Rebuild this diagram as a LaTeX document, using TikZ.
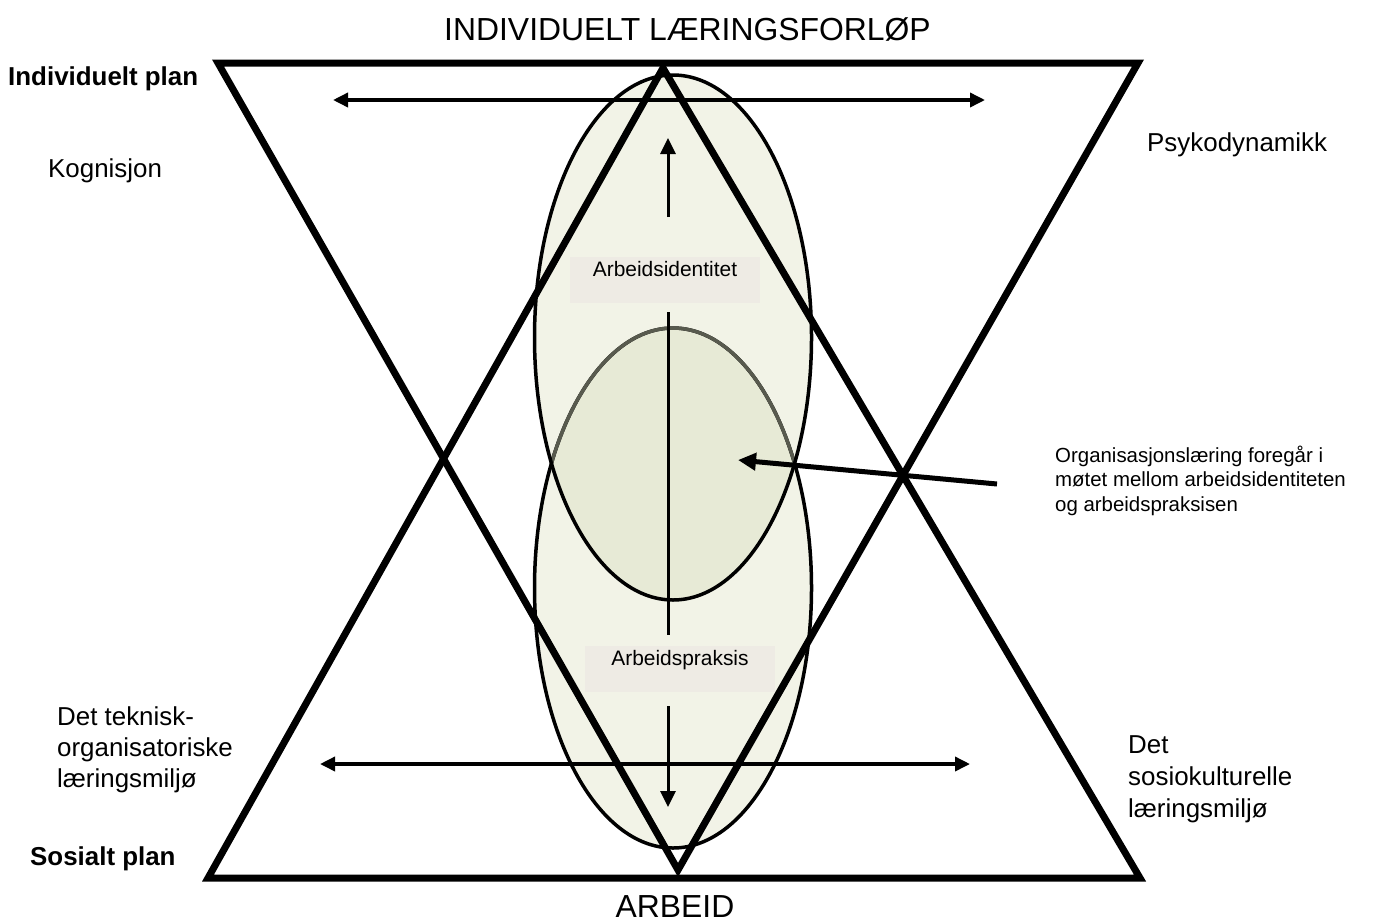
\documentclass[tikz,border=0pt]{standalone}
\usepackage{fontspec}
\setmainfont{Liberation Sans}
\usepackage{xcolor}
\definecolor{lysgronn}{RGB}{242,243,231}
\definecolor{overlapp}{RGB}{231,234,214}
\definecolor{buegra}{RGB}{88,90,78}
\definecolor{etikettgra}{RGB}{238,235,228}
\usetikzlibrary{arrows.meta,positioning}

\begin{document}
\begin{tikzpicture}[x=1bp,y=-1bp,
  trekant/.style={line width=7bp},
  ellipselinje/.style={line width=3.5bp},
  pil/.style={-{Triangle[length=16bp,width=15bp]},line width=3.5bp},
  dobbelpil/.style={{Triangle[length=15bp,width=14bp]}-{Triangle[length=15bp,width=14bp]},line width=3.5bp},
  skraapil/.style={-{Triangle[length=18bp,width=17bp]},line width=5bp},
  etikett/.style={fill=etikettgra,minimum width=190bp,text height=15bp,
                  text depth=23bp,inner ysep=4bp,font=\fontsize{21}{25}\selectfont},
  tekst/.style={inner sep=0pt,align=left,anchor=base west,font=\fontsize{26}{31}\selectfont},
  fettekst/.style={tekst,font=\fontsize{26}{31}\selectfont\bfseries},
  overskrift/.style={inner sep=0pt,anchor=base,font=\fontsize{32}{38}\selectfont}
]
\useasboundingbox (0,0) rectangle (1377,922);

% Ellipsene
\coordinate (ovre) at (673,337.5);
\coordinate (nedre) at (673,588);
\fill[lysgronn] (nedre) ellipse [x radius=138.5,y radius=260];
\fill[lysgronn] (ovre) ellipse [x radius=138.5,y radius=262.5];
\begin{scope}
  \clip (ovre) ellipse [x radius=138.5,y radius=262.5];
  \fill[overlapp] (nedre) ellipse [x radius=138.5,y radius=260];
\end{scope}
\draw[ellipselinje] (nedre) ellipse [x radius=138.5,y radius=260];
\begin{scope}
  \clip (ovre) ellipse [x radius=138.5,y radius=262.5];
  \draw[ellipselinje,draw=buegra] (nedre) ellipse [x radius=138.5,y radius=260];
\end{scope}
\draw[ellipselinje] (ovre) ellipse [x radius=138.5,y radius=262.5];

% Horisontale piler
\coordinate (hv1) at (333,100);
\coordinate (hh1) at (985,100);
\coordinate (hv2) at (320,764);
\coordinate (hh2) at (970,764);
\draw[dobbelpil] (hv1) -- (hh1);
\draw[dobbelpil] (hv2) -- (hh2);

% Trekantene
\coordinate (t1) at (218,63);
\coordinate (t2) at (1138,63);
\coordinate (t3) at (678,870);
\coordinate (b1) at (208,878);
\coordinate (b2) at (1140,878);
\coordinate (b3) at (663,68);
\draw[trekant] (t1) -- (t2) -- (t3) -- cycle;
\draw[trekant] (b1) -- (b2) -- (b3) -- cycle;

% Etiketter i ellipsene
\node[etikett] (identitet) at (665,280) {Arbeidsidentitet};
\node[etikett] (praksis) at (680,669) {Arbeidspraksis};

% Vertikale piler
\coordinate (opp1) at (668,217);
\coordinate (opp2) at (668,138);
\coordinate (midt1) at (668,312);
\coordinate (midt2) at (668,635);
\coordinate (ned1) at (668,706);
\coordinate (ned2) at (668,807);
\draw[pil,line width=3bp] (opp1) -- (opp2);
\draw[line width=3bp] (midt1) -- (midt2);
\draw[pil,line width=3bp] (ned1) -- (ned2);

% Tekster
\node[overskrift] (tittel) at (687.5,40) {INDIVIDUELT LÆRINGSFORLØP};
\node[overskrift] (arbeid) at (675,917) {ARBEID};
\node[fettekst] (indplan) at (8,85) {Individuelt plan};
\node[tekst] (kogn) at (48,177) {Kognisjon};
\node[tekst] (psyk) at (1147,151) {Psykodynamikk};
\node[tekst] (teknisk) at (57,787) {Det teknisk-\\organisatoriske\\læringsmiljø};
\node[fettekst] (sosplan) at (30,865) {Sosialt plan};
\node[tekst,font=\fontsize{26}{32}\selectfont] (sosio) at (1128,817) {Det\\sosiokulturelle\\læringsmiljø};
\node[tekst,font=\fontsize{20.5}{24.5}\selectfont] (orglaering) at (1055,511)
  {Organisasjonslæring foregår i\\møtet mellom arbeidsidentiteten\\og arbeidspraksisen};

% Pil mot overlappet
\coordinate (skraa1) at (997,484);
\coordinate (skraa2) at (738,460);
\draw[skraapil] (skraa1) -- (skraa2);

\end{tikzpicture}
\end{document}
